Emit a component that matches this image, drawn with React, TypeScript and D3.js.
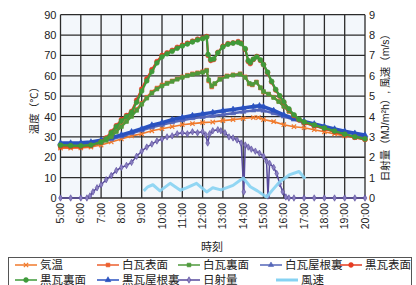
import * as d3 from "d3";

// [hour, value] pairs
const kion = [[5,24.5],[5.5,24.5],[6,24.6],[6.5,25],[7,26],[7.5,27.5],[8,29],[8.5,30.5],[9,31.5],[9.5,33],[10,34],[10.5,35],[11,36],[11.5,36.5],[12,37],[12.5,37.3],[13,38],[13.5,38.5],[14,39],[14.5,39.5],[14.75,39.5],[15,38.5],[15.5,37.5],[16,36],[16.5,35],[17,34.5],[17.5,33.5],[18,32.5],[18.5,31.5],[19,30.5],[19.5,29.8],[20,29]];
const shiroHyomen = [[5,25],[5.5,25],[6,25],[6.5,25.5],[7,27],[7.25,28.5],[7.5,30.5],[7.75,33],[8,35.5],[8.25,38],[8.5,40.5],[8.75,43.5],[9,46.5],[9.25,49.5],[9.5,52],[9.75,54],[10,55.5],[10.25,56.5],[10.5,57.5],[10.75,58.5],[11,59.5],[11.25,60.3],[11.5,61],[11.75,61.5],[12,62],[12.2,62.8],[12.3,57.5],[12.45,54.5],[12.6,56],[12.85,58.5],[13.2,60],[13.5,60.5],[13.85,61],[14.1,59.5],[14.3,56],[14.45,55.5],[14.65,57],[14.85,54],[15,52],[15.25,51],[15.5,49.5],[15.75,47.5],[16,45],[16.25,42.5],[16.5,40.5],[16.75,38.5],[17,37],[17.5,35.5],[18,34],[18.5,32.5],[19,31],[19.5,29.8],[20,28.8]];
const shiroUramen = [[5,25.8],[5.5,25.6],[6,25.5],[6.5,25.8],[7,27.2],[7.25,28.3],[7.5,30],[7.75,32.5],[8,35],[8.25,37.5],[8.5,40],[8.75,43],[9,46],[9.25,49],[9.5,51.5],[9.75,53.5],[10,55],[10.25,56.2],[10.5,57.2],[10.75,58.3],[11,59.2],[11.25,60],[11.5,60.7],[11.75,61.2],[12,61.7],[12.2,62.5],[12.3,58],[12.45,55],[12.6,56.2],[12.85,58.2],[13.2,59.7],[13.5,60.3],[13.85,60.8],[14.1,59.2],[14.3,56.3],[14.45,55.8],[14.65,56.8],[14.85,54.2],[15,52.3],[15.25,51],[15.5,49.3],[15.75,47.3],[16,45],[16.25,42.7],[16.5,40.7],[16.75,38.8],[17,37.3],[17.5,35.8],[18,34.3],[18.5,32.8],[19,31.3],[19.5,30],[20,29]];
const shiroYaneura = [[5,26.3],[5.5,26.3],[6,26.4],[6.5,26.8],[7,27.6],[7.5,28.8],[8,30.2],[8.5,31.8],[9,33.2],[9.5,34.7],[10,36],[10.5,37.2],[11,38.2],[11.5,39.2],[12,39.8],[12.5,40.3],[13,40.9],[13.5,41.6],[14,42.3],[14.5,43],[14.8,43.3],[15,42.9],[15.5,41.6],[16,40],[16.5,38.5],[17,37],[17.5,35.8],[18,34.6],[18.5,33.5],[19,32.4],[19.5,31.4],[20,30.4]];
const kuroHyomen = [[5,25.5],[5.5,25.3],[6,25.2],[6.5,25.8],[7,27.5],[7.25,29.5],[7.5,32.5],[7.75,35.5],[8,38.5],[8.25,40.5],[8.5,42.5],[8.75,48],[9,53.5],[9.25,58.5],[9.5,63],[9.75,67],[10,70],[10.25,71.3],[10.5,72.5],[10.75,74],[11,75],[11.25,76],[11.5,77],[11.75,78],[12,78.5],[12.2,79.3],[12.27,70],[12.4,67.5],[12.55,68],[12.75,71.5],[13,74.5],[13.25,75.8],[13.5,76.2],[13.75,76.8],[13.9,76],[14.1,73],[14.25,67],[14.35,66],[14.5,68],[14.67,69.5],[14.85,67.5],[15,65.5],[15.2,61.5],[15.4,57],[15.6,53],[15.8,50],[16,47],[16.25,43.5],[16.5,40.5],[16.75,38.3],[17,37],[17.5,35.5],[18,34],[18.5,32.5],[19,31],[19.5,29.8],[20,28.8]];
const kuroUramen = [[5,25.9],[5.5,25.7],[6,25.6],[6.5,26],[7,27.5],[7.25,29],[7.5,32],[7.75,35],[8,37.8],[8.25,40],[8.5,42],[8.75,47],[9,52.5],[9.25,57.5],[9.5,62],[9.75,66.3],[10,69.3],[10.25,70.8],[10.5,72],[10.75,73.5],[11,74.6],[11.25,75.6],[11.5,76.6],[11.75,77.6],[12,78.2],[12.2,79],[12.27,70.5],[12.4,68],[12.55,68.3],[12.75,71.3],[13,74.2],[13.25,75.5],[13.5,76],[13.75,76.4],[13.9,75.8],[14.1,73.3],[14.25,67.5],[14.35,66.5],[14.5,68.2],[14.67,69.3],[14.85,67.8],[15,65.5],[15.2,61.8],[15.4,57.3],[15.6,53.3],[15.8,50.2],[16,47.2],[16.25,43.8],[16.5,40.8],[16.75,38.6],[17,37.3],[17.5,35.8],[18,34.3],[18.5,32.8],[19,31.3],[19.5,30],[20,29]];
const kuroYaneura = [[5,27],[5.5,27],[6,27.1],[6.5,27.5],[7,28.4],[7.5,29.6],[8,31],[8.5,32.5],[9,34],[9.5,35.8],[10,37],[10.5,38.5],[11,39.5],[11.5,40.5],[12,41.3],[12.5,42],[13,42.8],[13.5,43.5],[14,44.2],[14.5,44.9],[14.8,45.3],[15,44.8],[15.5,43],[16,40.8],[16.5,39],[17,37.6],[17.5,36.4],[18,35.1],[18.5,33.9],[19,32.8],[19.5,31.8],[20,30.9]];
// right axis (MJ/m²h, m/s)
const nissha = [[5,0],[5.5,0],[6,0],[6.3,0],[6.45,0.1],[6.6,0.3],[6.8,0.5],[7,0.65],[7.25,0.9],[7.5,1.1],[7.75,1.35],[8,1.5],[8.25,1.6],[8.5,1.75],[8.75,2.05],[9,2.3],[9.25,2.5],[9.5,2.65],[9.75,2.8],[10,2.9],[10.25,3.0],[10.5,3.05],[10.75,3.15],[11,3.2],[11.25,3.15],[11.5,3.25],[11.75,3.2],[12,3.25],[12.15,3.1],[12.25,2.7],[12.35,3.15],[12.5,3.3],[12.75,3.35],[12.9,3.3],[13.1,3.2],[13.3,3.0],[13.5,2.95],[13.7,2.85],[13.9,2.7],[14.03,0.3],[14.1,2.6],[14.25,2.5],[14.4,2.4],[14.6,2.3],[14.8,2.2],[15,2.05],[15.15,1.8],[15.22,0.1],[15.3,1.7],[15.5,1.5],[15.65,1.2],[15.8,0.7],[15.95,0.3],[16.1,0.05],[16.25,0],[16.5,0],[17,0],[17.5,0],[18,0],[18.5,0],[19,0],[19.5,0],[20,0]];
const fusoku = [[9.1,0.35],[9.3,0.55],[9.55,0.65],[9.9,0.35],[10.4,0.72],[10.9,0.38],[11.2,0.5],[11.7,0.72],[12.2,0.3],[12.5,0.5],[12.9,0.4],[13.5,0.62],[14,0.98],[14.35,0.55],[14.7,0.35],[15.15,0.05],[15.45,0.4],[15.8,0.8],[16.3,1.15],[16.75,1.3],[17.05,0.95]];

const hourTicks = [5,6,7,8,9,10,11,12,13,14,15,16,17,18,19,20];
const leftTicks = [0,10,20,30,40,50,60,70,80,90];
const rightTicks = [0,1,2,3,4,5,6,7,8,9];

const W = 416, H = 285;
const plot = { left: 60.5, right: 365, top: 14.7, bottom: 198 };
const FONT = "'Liberation Sans', Arial, 'Noto Sans CJK JP', sans-serif";

const x = d3.scaleLinear([5, 20], [plot.left, plot.right]);
const yL = d3.scaleLinear([0, 90], [plot.bottom, plot.top]);
const yR = d3.scaleLinear([0, 9], [plot.bottom, plot.top]);

const symX = (d3 as any).symbolX || d3.symbolCross;

const series = [
  { name: "気温", data: kion, color: "#f07a2c", sym: symX, size: 14, fill: "none", axis: "L", width: 1.6 },
  { name: "白瓦表面", data: shiroHyomen, color: "#ec5f2e", sym: d3.symbolSquare, size: 14, fill: "#ec5f2e", axis: "L", width: 2.2 },
  { name: "白瓦裏面", data: shiroUramen, color: "#4f9a3c", sym: d3.symbolSquare, size: 14, fill: "#4f9a3c", axis: "L", width: 2.2 },
  { name: "白瓦屋根裏", data: shiroYaneura, color: "#5566b8", sym: d3.symbolTriangle, size: 12, fill: "#5566b8", axis: "L", width: 2.5 },
  { name: "黒瓦表面", data: kuroHyomen, color: "#e53b22", sym: d3.symbolCircle, size: 18, fill: "#e53b22", axis: "L", width: 2.2 },
  { name: "黒瓦裏面", data: kuroUramen, color: "#3f9a3a", sym: d3.symbolCircle, size: 18, fill: "#3f9a3a", axis: "L", width: 2.2 },
  { name: "黒瓦屋根裏", data: kuroYaneura, color: "#2a52c0", sym: d3.symbolTriangle, size: 14, fill: "#2a52c0", axis: "L", width: 3.5 },
  { name: "日射量", data: nissha, color: "#574a9c", sym: d3.symbolDiamond, size: 12, fill: "#8a7fc0", axis: "R", width: 1.5 },
  { name: "風速", data: fusoku, color: "#86d2f2", sym: null, size: 0, fill: "none", axis: "R", width: 3 },
];

// draw order: back to front
const drawOrder = ["気温", "白瓦屋根裏", "黒瓦屋根裏", "白瓦表面", "白瓦裏面", "黒瓦表面", "黒瓦裏面", "日射量", "風速"];

const legendPos = [
  { lx: 15, ty: 269 }, { lx: 97, ty: 269 }, { lx: 178, ty: 269 }, { lx: 260, ty: 269 }, { lx: 340, ty: 269 },
  { lx: 15, ty: 284 }, { lx: 97, ty: 284 }, { lx: 178, ty: 284 }, { lx: 276, ty: 284 },
];

function Marker({ s, cx, cy }) {
  if (!s.sym) return null;
  const path = d3.symbol(s.sym, s.size)();
  const stroked = s.fill === "none";
  return (
    <path d={path} transform={`translate(${cx},${cy})`} fill={stroked ? "none" : s.fill}
      stroke={s.color} strokeWidth={stroked ? 1.2 : 0.6} />
  );
}

export default function App() {
  const line = d3.line<number[]>();
  return (
    <svg width={W} height={H} style={{ position: "absolute", left: 0, top: 0, background: "#fff" }} fontFamily={FONT}>
      <rect x={plot.left} y={plot.top} width={plot.right - plot.left} height={plot.bottom - plot.top} fill="#f3f7fb" />
      {/* grid */}
      <g stroke="#2b2b2b" strokeWidth={1.3}>
        {leftTicks.map(t => <line key={"h" + t} x1={plot.left} x2={plot.right} y1={yL(t)} y2={yL(t)} />)}
        {hourTicks.map(h => <line key={"v" + h} x1={x(h)} x2={x(h)} y1={plot.top} y2={plot.bottom} />)}
      </g>
      {/* series */}
      {drawOrder.map(n => {
        const s = series.find(q => q.name === n)!;
        const ys = s.axis === "L" ? yL : yR;
        const pts = s.data.map(d => [x(d[0]), ys(d[1])]);
        return (
          <g key={n}>
            <path d={line(pts) || ""} fill="none" stroke={s.color} strokeWidth={s.width} strokeLinejoin="round"
              opacity={n === "風速" ? 0.9 : 1} />
            {pts.map((p, i) => <Marker key={i} s={s} cx={p[0]} cy={p[1]} />)}
          </g>
        );
      })}
      {/* left axis labels */}
      <g fontSize={11} fill="#222" textAnchor="end">
        {leftTicks.map(t => <text key={t} x={plot.left - 4} y={yL(t) + 4}>{t}</text>)}
      </g>
      <g fontSize={11} fill="#222">
        {rightTicks.map(t => <text key={t} x={plot.right + 4} y={yR(t) + 4}>{t}</text>)}
      </g>
      {/* x labels */}
      <g fontSize={10.5} fill="#222" textAnchor="end">
        {hourTicks.map(h => (
          <text key={h} transform={`translate(${x(h) + 3.5},${plot.bottom + 5}) rotate(-90)`}>{`${h}:00`}</text>
        ))}
      </g>
      <text x={212} y={251} fontSize={11} textAnchor="middle" fill="#222">時刻</text>
      <text transform="translate(38,108) rotate(-90)" fontSize={10.5} textAnchor="middle" fill="#222">温度（℃）</text>
      <text transform="translate(389,105) rotate(-90)" fontSize={10.5} textAnchor="middle" fill="#222">日射量（MJ/m²h）, 風速（m/s）</text>
      {/* legend */}
      <rect x={8.5} y={257.5} width={403} height={40} fill="#fff" stroke="#555" strokeWidth={1} />
      {series.map((s, i) => {
        const p = legendPos[i];
        const cy = p.ty - 4;
        return (
          <g key={s.name}>
            <line x1={p.lx} x2={p.lx + 22} y1={cy} y2={cy} stroke={s.color} strokeWidth={s.name === "風速" ? 3 : 1.5} />
            <Marker s={s} cx={p.lx + 11} cy={cy} />
            <text x={p.lx + 25} y={p.ty} fontSize={11.5} fill="#222">{s.name}</text>
          </g>
        );
      })}
    </svg>
  );
}
